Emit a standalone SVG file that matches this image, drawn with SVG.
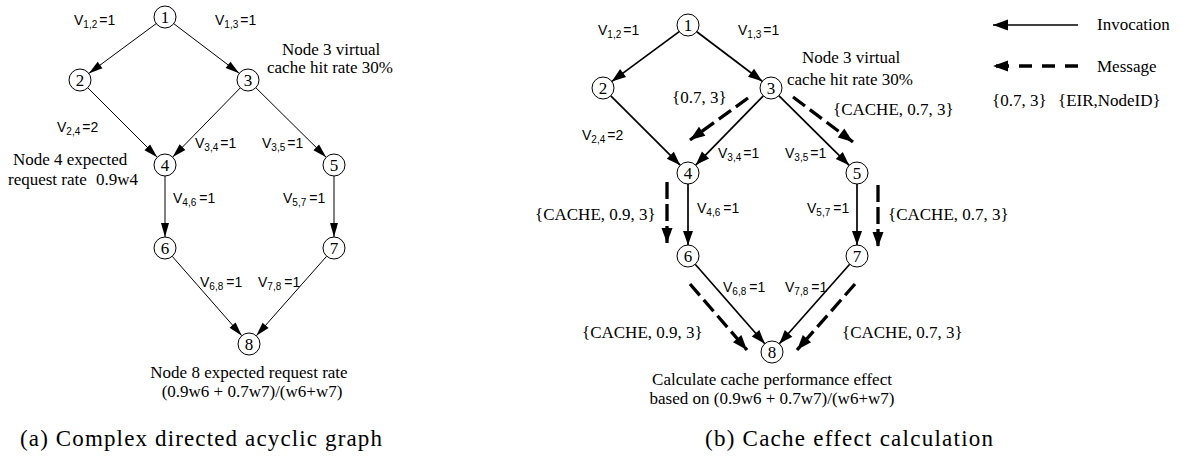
<svg xmlns="http://www.w3.org/2000/svg" width="1180" height="460" viewBox="0 0 1180 460">
<style>
.e1{stroke:#000;stroke-width:1;fill:none}
.e2{stroke:#000;stroke-width:1.7;fill:none}
.ed{stroke:#000;stroke-width:3.3;stroke-dasharray:15 6;fill:none}
.nc{fill:#fff;stroke:#000;stroke-width:1}
.nt{font-family:"Liberation Serif","Times New Roman",serif;font-size:17px;text-anchor:middle}
.lb{font-family:"Liberation Sans",Arial,sans-serif;font-size:14px}
.sb{font-size:10px}
.an{font-family:"Liberation Serif","Times New Roman",serif;font-size:17px}
.cap{font-family:"Liberation Serif","Times New Roman",serif;font-size:23px}
</style>
<defs>
<marker id="ah1" markerUnits="userSpaceOnUse" markerWidth="16" markerHeight="10" refX="14" refY="4" orient="auto" overflow="visible"><path d="M0,0 L14,4 L0,8 z" fill="#000"/></marker>
<marker id="ah2" markerUnits="userSpaceOnUse" markerWidth="16" markerHeight="12" refX="14" refY="5" orient="auto" overflow="visible"><path d="M0,0 L14,5 L0,10 z" fill="#000"/></marker>
<marker id="ahd" markerUnits="userSpaceOnUse" markerWidth="16" markerHeight="12" refX="15" refY="5.5" orient="auto" overflow="visible"><path d="M0,0 L15,5.5 L0,11 z" fill="#000"/></marker>
</defs>
<rect width="1180" height="460" fill="#fff"/>

<g id="connectors">
<g id="a-edges" marker-end="url(#ah1)">
<line class="e1" x1="156.2" y1="23.6" x2="88.8" y2="73.4"/>
<line class="e1" x1="173.8" y1="23.7" x2="239.2" y2="73.3"/>
<line class="e1" x1="87.8" y1="87.8" x2="157.2" y2="157.2"/>
<line class="e1" x1="240.3" y1="87.9" x2="172.7" y2="157.1"/>
<line class="e1" x1="255.8" y1="87.7" x2="326.2" y2="157.3"/>
<line class="e1" x1="165" y1="176" x2="165" y2="237"/>
<line class="e1" x1="334" y1="176" x2="334" y2="237"/>
<line class="e1" x1="172.2" y1="256.3" x2="241.8" y2="335.7"/>
<line class="e1" x1="326.7" y1="256.2" x2="256.3" y2="335.8"/>
</g>
<g id="b-edges" marker-end="url(#ah2)">
<line class="e2" x1="679.2" y1="31.6" x2="611.8" y2="81.4"/>
<line class="e2" x1="696.8" y1="31.7" x2="762.2" y2="81.3"/>
<line class="e2" x1="610.8" y1="95.8" x2="680.2" y2="165.2"/>
<line class="e2" x1="763.3" y1="95.9" x2="695.7" y2="165.1"/>
<line class="e2" x1="778.8" y1="95.7" x2="849.2" y2="165.3"/>
<line class="e2" x1="688" y1="184" x2="688" y2="245"/>
<line class="e2" x1="857" y1="184" x2="857" y2="245"/>
<line class="e2" x1="695.2" y1="264.3" x2="764.8" y2="343.7"/>
<line class="e2" x1="849.7" y1="264.2" x2="779.3" y2="343.8"/>
<line class="e2" x1="1078" y1="25" x2="993" y2="25" marker-end="url(#ahd)"/>
</g>
<g id="b-messages" marker-end="url(#ahd)">
<line class="ed" x1="748" y1="98" x2="690" y2="140"/>
<line class="ed" x1="793" y1="97" x2="853" y2="142"/>
<line class="ed" x1="667" y1="182" x2="667" y2="243" style="stroke-dasharray:17 5"/>
<line class="ed" x1="878" y1="185" x2="878" y2="247" style="stroke-dasharray:17 5"/>
<line class="ed" x1="690" y1="284" x2="747" y2="350"/>
<line class="ed" x1="855" y1="284" x2="797" y2="350"/>
<line class="ed" x1="1078" y1="66" x2="993" y2="66" style="stroke-dasharray:13 10"/>
</g>
</g>

<g id="a-nodes">
<g id="a-n1"><circle class="nc" cx="165" cy="17" r="11"/><text class="nt" x="165" y="23">1</text></g>
<g id="a-n2"><circle class="nc" cx="80" cy="80" r="11"/><text class="nt" x="80" y="86">2</text></g>
<g id="a-n3"><circle class="nc" cx="248" cy="80" r="11"/><text class="nt" x="248" y="86">3</text></g>
<g id="a-n4"><circle class="nc" cx="165" cy="165" r="11"/><text class="nt" x="165" y="171">4</text></g>
<g id="a-n5"><circle class="nc" cx="334" cy="165" r="11"/><text class="nt" x="334" y="171">5</text></g>
<g id="a-n6"><circle class="nc" cx="165" cy="248" r="11"/><text class="nt" x="165" y="254">6</text></g>
<g id="a-n7"><circle class="nc" cx="334" cy="248" r="11"/><text class="nt" x="334" y="254">7</text></g>
<g id="a-n8"><circle class="nc" cx="249" cy="344" r="11"/><text class="nt" x="249" y="350">8</text></g>
</g>

<g id="b-nodes">
<g id="b-n1"><circle class="nc" cx="688" cy="25" r="11"/><text class="nt" x="688" y="31">1</text></g>
<g id="b-n2"><circle class="nc" cx="603" cy="88" r="11"/><text class="nt" x="603" y="94">2</text></g>
<g id="b-n3"><circle class="nc" cx="771" cy="88" r="11"/><text class="nt" x="771" y="94">3</text></g>
<g id="b-n4"><circle class="nc" cx="688" cy="173" r="11"/><text class="nt" x="688" y="179">4</text></g>
<g id="b-n5"><circle class="nc" cx="857" cy="173" r="11"/><text class="nt" x="857" y="179">5</text></g>
<g id="b-n6"><circle class="nc" cx="688" cy="256" r="11"/><text class="nt" x="688" y="262">6</text></g>
<g id="b-n7"><circle class="nc" cx="857" cy="256" r="11"/><text class="nt" x="857" y="262">7</text></g>
<g id="b-n8"><circle class="nc" cx="772" cy="352" r="11"/><text class="nt" x="772" y="358">8</text></g>
</g>

<g id="edge-labels" class="lb">
<text x="74" y="25">V<tspan class="sb" dy="3">1,2</tspan><tspan dx="2" dy="-3">=1</tspan></text>
<text x="215" y="25">V<tspan class="sb" dy="3">1,3</tspan><tspan dx="2" dy="-3">=1</tspan></text>
<text x="57" y="132">V<tspan class="sb" dy="3">2,4</tspan><tspan dx="2" dy="-3">=2</tspan></text>
<text x="195" y="148">V<tspan class="sb" dy="3">3,4</tspan><tspan dx="2" dy="-3">=1</tspan></text>
<text x="262" y="148">V<tspan class="sb" dy="3">3,5</tspan><tspan dx="2" dy="-3">=1</tspan></text>
<text x="173" y="203">V<tspan class="sb" dy="3">4,6</tspan><tspan dx="3" dy="-3">=1</tspan></text>
<text x="283" y="203">V<tspan class="sb" dy="3">5,7</tspan><tspan dx="3" dy="-3">=1</tspan></text>
<text x="200" y="287">V<tspan class="sb" dy="3">6,8</tspan><tspan dx="3" dy="-3">=1</tspan></text>
<text x="258" y="287">V<tspan class="sb" dy="3">7,8</tspan><tspan dx="3" dy="-3">=1</tspan></text>
<text x="598" y="35">V<tspan class="sb" dy="3">1,2</tspan><tspan dx="2" dy="-3">=1</tspan></text>
<text x="738" y="35">V<tspan class="sb" dy="3">1,3</tspan><tspan dx="2" dy="-3">=1</tspan></text>
<text x="582" y="140">V<tspan class="sb" dy="3">2,4</tspan><tspan dx="2" dy="-3">=2</tspan></text>
<text x="718" y="158">V<tspan class="sb" dy="3">3,4</tspan><tspan dx="2" dy="-3">=1</tspan></text>
<text x="785" y="158">V<tspan class="sb" dy="3">3,5</tspan><tspan dx="2" dy="-3">=1</tspan></text>
<text x="697" y="213">V<tspan class="sb" dy="3">4,6</tspan><tspan dx="3" dy="-3">=1</tspan></text>
<text x="807" y="213">V<tspan class="sb" dy="3">5,7</tspan><tspan dx="3" dy="-3">=1</tspan></text>
<text x="723" y="292">V<tspan class="sb" dy="3">6,8</tspan><tspan dx="3" dy="-3">=1</tspan></text>
<text x="785" y="292">V<tspan class="sb" dy="3">7,8</tspan><tspan dx="3" dy="-3">=1</tspan></text>
</g>

<g id="annotations" class="an">
<text x="282" y="55">Node 3 virtual</text>
<text x="267" y="73">cache hit rate 30%</text>
<text x="13" y="165">Node 4 expected</text>
<text x="8" y="185">request rate<tspan dx="5"> 0.9w4</tspan></text>
<text x="249" y="378" text-anchor="middle">Node 8 expected request rate</text>
<text x="252" y="397" text-anchor="middle">(0.9w6 + 0.7w7)/(w6+w7)</text>
<text x="802" y="63">Node 3 virtual</text>
<text x="787" y="85">cache hit rate 30%</text>
<text x="672" y="103">{0.7, 3}</text>
<text x="833" y="115">{CACHE, 0.7, 3}</text>
<text x="535" y="220">{CACHE, 0.9, 3}</text>
<text x="888" y="220">{CACHE, 0.7, 3}</text>
<text x="582" y="338">{CACHE, 0.9, 3}</text>
<text x="842" y="338">{CACHE, 0.7, 3}</text>
<text x="772" y="385" text-anchor="middle">Calculate cache performance effect</text>
<text x="772" y="404" text-anchor="middle">based on (0.9w6 + 0.7w7)/(w6+w7)</text>
<text x="1097" y="30">Invocation</text>
<text x="1097" y="72">Message</text>
<text x="992" y="106">{0.7, 3}</text>
<text x="1058" y="106">{EIR,NodeID}</text>
</g>

<g id="captions" class="cap">
<text x="20" y="446" textLength="362" lengthAdjust="spacing">(a) Complex directed acyclic graph</text>
<text x="705" y="446" textLength="288" lengthAdjust="spacing">(b) Cache effect calculation</text>
</g>
</svg>
